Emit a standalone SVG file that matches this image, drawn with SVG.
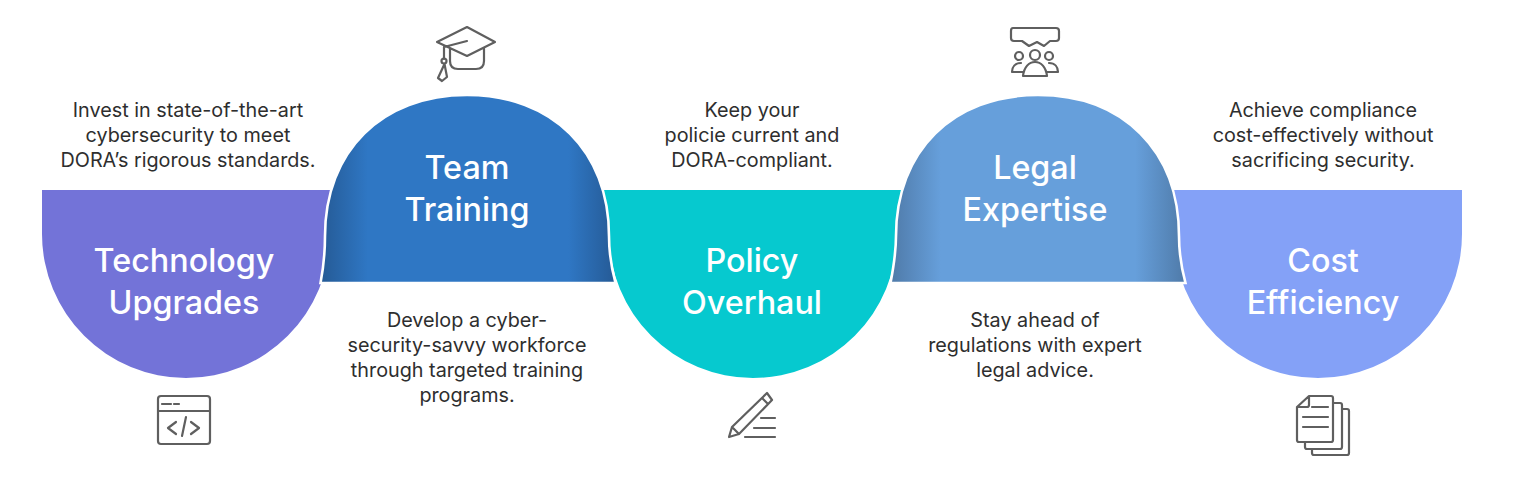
<svg xmlns="http://www.w3.org/2000/svg" width="1539" height="481" viewBox="0 0 1539 481">
<style>
.t{font-family:"Inter","Liberation Sans",sans-serif;font-size:32.3px;font-weight:500;fill:#fff;text-anchor:middle}
.b{font-family:"Inter","Liberation Sans",sans-serif;font-size:19.8px;fill:#2e2e2e;text-anchor:middle}
.i{fill:none;stroke:#5f5f5f;stroke-width:2.2;stroke-linecap:round;stroke-linejoin:round}
.d{stroke:#fff;stroke-width:2.6}
</style>
<defs>
<linearGradient id="g1" x1="0" x2="1" y1="0" y2="0"><stop offset="0" stop-color="#255a95"/><stop offset=".16" stop-color="#2f77c4"/><stop offset=".84" stop-color="#2f77c4"/><stop offset="1" stop-color="#255a95"/></linearGradient>
<linearGradient id="g2" x1="0" x2="1" y1="0" y2="0"><stop offset="0" stop-color="#4f7aa8"/><stop offset=".17" stop-color="#669fdb"/><stop offset=".83" stop-color="#669fdb"/><stop offset="1" stop-color="#4f7aa8"/></linearGradient>
</defs>
<rect width="1539" height="481" fill="#fff"/>
<g id="technology-upgrades">
<path d="M42 190H350V234H330A144 144 0 0 1 186 378A144 144 0 0 1 42 234Z" fill="#7373d8"/>
<text class="t" x="184" y="272">Technology</text><text class="t" x="184" y="314">Upgrades</text>
<g class="i"><rect x="158" y="396" width="52" height="48" rx="3"/><path d="M158 411H210M162 404H171M174 404H179M176 422L168 428L176 434M191 422L199 428L191 434M186 417L182 436"/></g>
<text class="b" x="188" y="117">Invest in state-of-the-art</text><text class="b" x="188" y="142">cybersecurity to meet</text><text class="b" x="188" y="167">DORA’s rigorous standards.</text>
</g>
<g id="policy-overhaul">
<path d="M585 190H920V234H897A144 144 0 0 1 753 378A144 144 0 0 1 609 234H585Z" fill="#06c9cf"/>
<text class="t" x="752" y="272">Policy</text><text class="t" x="752" y="314">Overhaul</text>
<g class="i"><path d="M729 437L732 427L767 393L772 400L739 434ZM732 427L739 434M762 398L768 404M761 418H775M754 428H775M745 437H775"/></g>
<text class="b" x="752" y="117">Keep your</text><text class="b" x="752" y="142">policie current and</text><text class="b" x="752" y="167">DORA-compliant.</text>
</g>
<g id="cost-efficiency">
<path d="M1150 190H1462V234A144 144 0 0 1 1318 378A144 144 0 0 1 1174 234H1150Z" fill="#84a1f7"/>
<text class="t" x="1323" y="272">Cost</text><text class="t" x="1323" y="314">Efficiency</text>
<g class="i"><path d="M1297 407L1309 396H1331Q1333 396 1333 398V440Q1333 442 1331 442H1299Q1297 442 1297 440ZM1297 407H1307Q1309 407 1309 405V396M1312 407H1328M1303 417H1328M1303 427H1328M1305 442V447Q1305 449 1307 449H1340Q1342 449 1342 447V405Q1342 403 1340 403H1333M1342 409H1347Q1349 409 1349 411V453Q1349 455 1347 455H1314Q1312 455 1312 453V449"/></g>
<text class="b" x="1323" y="117">Achieve compliance</text><text class="b" x="1323" y="142">cost-effectively without</text><text class="b" x="1323" y="167">sacrificing security.</text>
</g>
<g id="team-training">
<path class="d" d="M320.500 283C323 270 325 250 325 236C325 151 382 95 467 95C552 95 609 151 609 236C609 250 612 270 615.500 283Z" fill="url(#g1)"/>
<text class="t" x="467" y="179">Team</text><text class="t" x="467" y="221">Training</text>
<g class="i"><path d="M437 42L467 27L495 42L467 56ZM450 48V61Q450 69 458 69H476Q484 69 484 61V48M444 47L467 41M444 47V59"/><circle cx="444" cy="61" r="2.500"/><path d="M444.500 64L438 78L442 81L447 77Z"/></g>
<text class="b" x="467" y="327">Develop a cyber-</text><text class="b" x="467" y="352">security-savvy workforce</text><text class="b" x="467" y="377">through targeted training</text><text class="b" x="467" y="402">programs.</text>
</g>
<g id="legal-expertise">
<path class="d" d="M890.500 283C893 270 896 250 896 236C896 151 953 95 1038 95C1123 95 1179 151 1179 236C1179 250 1182 270 1185.500 283Z" fill="url(#g2)"/>
<text class="t" x="1035" y="179">Legal</text><text class="t" x="1035" y="221">Expertise</text>
<g class="i"><path d="M1013 28H1056Q1059 28 1059 31V38Q1059 41 1056 41H1050L1044 46L1037 42L1029 46L1022 41H1014Q1011 41 1011 38V31Q1011 28 1013 28Z"/><circle cx="1035" cy="55" r="5"/><circle cx="1019" cy="56" r="4"/><circle cx="1049" cy="56" r="4"/><path d="M1023 76C1024 67 1029 62 1035 62C1041 62 1046 67 1047 76ZM1012 72C1012 67 1015 63 1021 63M1058 72C1058 67 1055 63 1049 63M1012 72H1024M1046 72H1058"/></g>
<text class="b" x="1035" y="327">Stay ahead of</text><text class="b" x="1035" y="352">regulations with expert</text><text class="b" x="1035" y="377">legal advice.</text>
</g>
</svg>
